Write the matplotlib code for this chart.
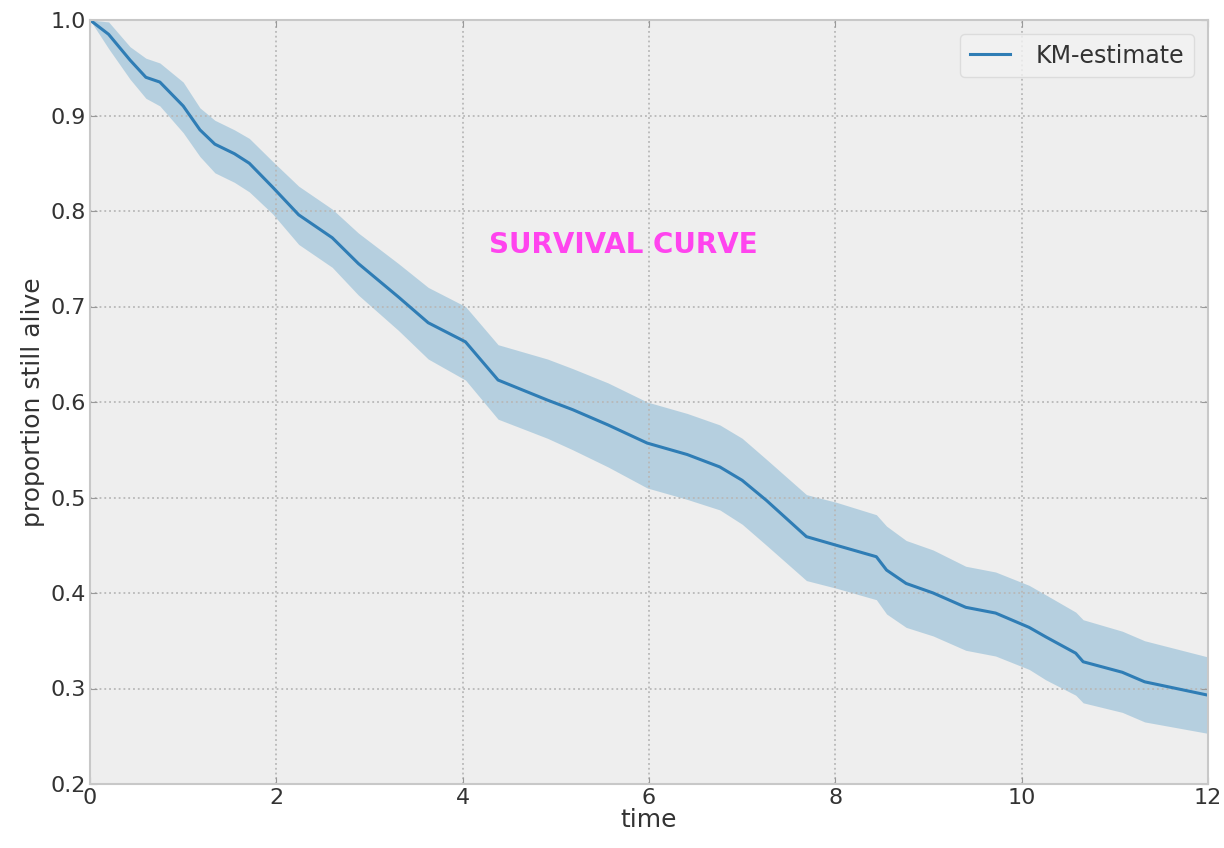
import matplotlib
matplotlib.use('Agg')
import matplotlib.pyplot as plt

# Kaplan-Meier estimate
time = [0, 0.2, 0.43, 0.6, 0.75, 1.0, 1.18, 1.34, 1.55, 1.71, 1.96, 2.24, 2.6, 2.88,
        3.31, 3.63, 4.03, 4.38, 4.91, 5.18, 5.56, 5.98, 6.41, 6.76, 7.0, 7.26, 7.69,
        8.01, 8.44, 8.55, 8.76, 9.05, 9.4, 9.72, 10.08, 10.26, 10.58, 10.66, 11.08,
        11.32, 12]
km_estimate = [1.0, 0.985, 0.958, 0.94, 0.935, 0.91, 0.885, 0.87, 0.86, 0.85, 0.825,
               0.796, 0.772, 0.745, 0.71, 0.683, 0.663, 0.623, 0.602, 0.592, 0.576,
               0.557, 0.545, 0.532, 0.518, 0.497, 0.459, 0.45, 0.438, 0.424, 0.41,
               0.4, 0.385, 0.379, 0.364, 0.354, 0.337, 0.328, 0.317, 0.307, 0.293]
ci_upper = [1.0, 0.998, 0.972, 0.96, 0.955, 0.935, 0.908, 0.895, 0.885, 0.876, 0.852,
            0.826, 0.802, 0.777, 0.745, 0.72, 0.70, 0.66, 0.645, 0.635, 0.62, 0.6,
            0.588, 0.576, 0.562, 0.54, 0.503, 0.495, 0.482, 0.47, 0.455, 0.445, 0.428,
            0.422, 0.408, 0.398, 0.38, 0.372, 0.36, 0.35, 0.333]
ci_lower = [1.0, 0.97, 0.938, 0.918, 0.91, 0.882, 0.857, 0.84, 0.83, 0.82, 0.797,
            0.765, 0.741, 0.712, 0.675, 0.645, 0.623, 0.582, 0.562, 0.55, 0.532, 0.51,
            0.498, 0.487, 0.472, 0.45, 0.413, 0.405, 0.393, 0.378, 0.364, 0.355, 0.34,
            0.334, 0.32, 0.309, 0.293, 0.285, 0.275, 0.265, 0.253]

xticks = [0, 2, 4, 6, 8, 10, 12]
yticks = [0.2, 0.3, 0.4, 0.5, 0.6, 0.7, 0.8, 0.9, 1.0]

blue = '#348ABD'

fig = plt.figure(figsize=(12.24, 8.48), dpi=100)
ax = fig.add_axes([90 / 1224, 64 / 848, 1118 / 1224, 764 / 848])
ax.set_facecolor('#eeeeee')

ax.fill_between(time, ci_lower, ci_upper, color=blue, alpha=0.3, linewidth=0)
ax.plot(time, km_estimate, color='#2f7db5', linewidth=2.2, label='KM-estimate')

ax.set_xlim(0, 12)
ax.set_ylim(0.2, 1.0)
ax.set_xticks(xticks)
ax.set_yticks(yticks)
ax.set_yticklabels([f'{v:.1f}' for v in yticks])

ax.grid(True, linestyle=':', color='#b8b8b8', linewidth=1.3)
ax.tick_params(direction='in', top=True, right=True, length=5, color='#999999',
               labelsize=16, labelcolor='#333333', pad=3)
for s in ax.spines.values():
    s.set_color('#c8c8c8')
    s.set_linewidth(1.5)

ax.set_xlabel('time', fontsize=18, color='#333333', labelpad=0)
ax.set_ylabel('proportion still alive', fontsize=18, color='#333333', labelpad=4)

leg = ax.legend(loc='upper right', fontsize=17, borderaxespad=0.6,
                handlelength=1.7, borderpad=0.4, handletextpad=1.1,
                frameon=True, fancybox=True)
leg.get_frame().set_facecolor('#f2f2f2')
leg.get_frame().set_edgecolor('#d8d8d8')
for t in leg.get_texts():
    t.set_color('#333333')

ax.text(5.72, 0.764, 'SURVIVAL CURVE', color='#ff44ee', fontsize=20, fontweight='bold',
        ha='center', va='center')

fig.savefig('out.png', dpi=100)
